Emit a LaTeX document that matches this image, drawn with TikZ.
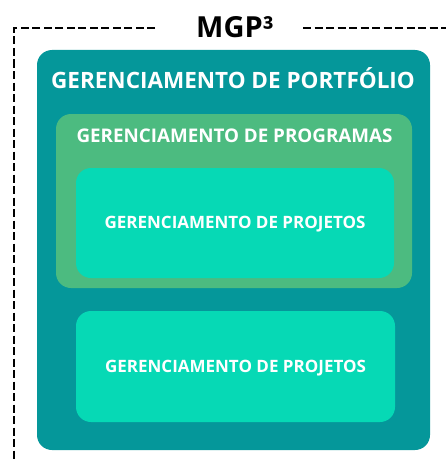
\documentclass[tikz,border=0pt]{standalone}
\usepackage{fontspec}
\setmainfont{Open Sans}
\definecolor{teal1}{HTML}{05979A}
\definecolor{green1}{HTML}{4CBB80}
\definecolor{cyan1}{HTML}{06D9B5}
\begin{document}
\begin{tikzpicture}[x=1pt,y=-1pt,
  box/.style={rounded corners=15pt},
  lbl/.style={text=white,font=\bfseries,inner sep=0pt},
  frame/.style={draw=black,line width=2.2pt,dash pattern=on 8pt off 3.5pt}]
\useasboundingbox (0,0) rectangle (446,460);
\fill[teal1,box] (37,50) rectangle (430,450);
\fill[green1,box] (56,114) rectangle (412,288);
\fill[cyan1,box] (76,168) rectangle (394,278);
\fill[cyan1,box] (76,311) rectangle (395,422);
\node[lbl,font=\fontsize{22.5}{26}\bfseries] (port) at (233,78) {GERENCIAMENTO DE PORTFÓLIO};
\node[lbl,font=\fontsize{18.8}{22}\bfseries] (prog) at (234.5,136) {GERENCIAMENTO DE PROGRAMAS};
\node[lbl,font=\fontsize{17}{20}\bfseries] (proj1) at (235,224) {GERENCIAMENTO DE PROJETOS};
\node[lbl,font=\fontsize{17}{20}\bfseries] (proj2) at (235.5,368) {GERENCIAMENTO DE PROJETOS};
\node[inner sep=0pt,font=\fontsize{29}{34}\bfseries] (title) at (235,27) {MGP³};
\coordinate (a) at (155,28);
\coordinate (b) at (14,28);
\coordinate (c) at (14,460);
\coordinate (d) at (303,28);
\coordinate (e) at (446,28);
\draw[frame] (a) -- (b) -- (c);
\draw[frame] (d) -- (e);
\end{tikzpicture}
\end{document}
